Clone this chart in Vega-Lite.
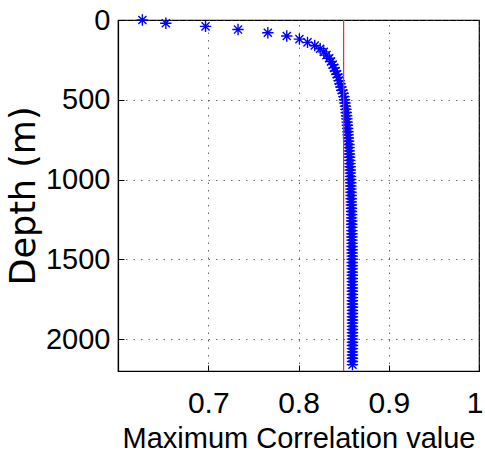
{
  "$schema": "https://vega.github.io/schema/vega-lite/v6.json",
  "width": 361,
  "height": 351,
  "autosize": {"type": "none"},
  "padding": {"left": 118, "top": 20, "right": 6, "bottom": 87},
  "background": "white",
  "config": {
    "view": {"stroke": "black", "strokeWidth": 1.2},
    "axis": {
      "domainColor": "black",
      "domainWidth": 1.2,
      "tickColor": "black",
      "tickSize": -6,
      "tickWidth": 1,
      "gridColor": "#444444",
      "gridDash": [1.5, 6],
      "gridWidth": 1,
      "gridOpacity": 0.8,
      "labelColor": "black",
      "titleColor": "black",
      "labelFont": "Liberation Sans",
      "titleFont": "Liberation Sans",
      "titleFontWeight": "normal"
    }
  },
  "datasets": {
    "profile": [
      {"depth": 0, "corr": 0.627},
      {"depth": 20, "corr": 0.653},
      {"depth": 40, "corr": 0.697},
      {"depth": 60, "corr": 0.733},
      {"depth": 80, "corr": 0.766},
      {"depth": 100, "corr": 0.787},
      {"depth": 120, "corr": 0.801},
      {"depth": 140, "corr": 0.81},
      {"depth": 160, "corr": 0.818},
      {"depth": 180, "corr": 0.824},
      {"depth": 200, "corr": 0.828},
      {"depth": 220, "corr": 0.831},
      {"depth": 240, "corr": 0.834},
      {"depth": 260, "corr": 0.836},
      {"depth": 280, "corr": 0.838},
      {"depth": 300, "corr": 0.8395},
      {"depth": 320, "corr": 0.841},
      {"depth": 340, "corr": 0.8425},
      {"depth": 360, "corr": 0.844},
      {"depth": 380, "corr": 0.845},
      {"depth": 400, "corr": 0.846},
      {"depth": 420, "corr": 0.847},
      {"depth": 440, "corr": 0.848},
      {"depth": 460, "corr": 0.8495},
      {"depth": 480, "corr": 0.8503},
      {"depth": 500, "corr": 0.851},
      {"depth": 520, "corr": 0.8515},
      {"depth": 540, "corr": 0.852},
      {"depth": 560, "corr": 0.8525},
      {"depth": 580, "corr": 0.8529},
      {"depth": 600, "corr": 0.8533},
      {"depth": 620, "corr": 0.8536},
      {"depth": 640, "corr": 0.8539},
      {"depth": 660, "corr": 0.8542},
      {"depth": 680, "corr": 0.8545},
      {"depth": 700, "corr": 0.8548},
      {"depth": 720, "corr": 0.855},
      {"depth": 740, "corr": 0.8553},
      {"depth": 760, "corr": 0.8555},
      {"depth": 780, "corr": 0.8558},
      {"depth": 800, "corr": 0.856},
      {"depth": 820, "corr": 0.8562},
      {"depth": 840, "corr": 0.8564},
      {"depth": 860, "corr": 0.8566},
      {"depth": 880, "corr": 0.8568},
      {"depth": 900, "corr": 0.857},
      {"depth": 920, "corr": 0.8572},
      {"depth": 940, "corr": 0.8573},
      {"depth": 960, "corr": 0.8575},
      {"depth": 980, "corr": 0.8576},
      {"depth": 1000, "corr": 0.8578},
      {"depth": 1020, "corr": 0.8579},
      {"depth": 1040, "corr": 0.858},
      {"depth": 1060, "corr": 0.8581},
      {"depth": 1080, "corr": 0.8582},
      {"depth": 1100, "corr": 0.8583},
      {"depth": 1120, "corr": 0.8584},
      {"depth": 1140, "corr": 0.8585},
      {"depth": 1160, "corr": 0.8586},
      {"depth": 1180, "corr": 0.8587},
      {"depth": 1200, "corr": 0.8588},
      {"depth": 1220, "corr": 0.8589},
      {"depth": 1240, "corr": 0.8589},
      {"depth": 1260, "corr": 0.859},
      {"depth": 1280, "corr": 0.859},
      {"depth": 1300, "corr": 0.8591},
      {"depth": 1320, "corr": 0.8591},
      {"depth": 1340, "corr": 0.8592},
      {"depth": 1360, "corr": 0.8592},
      {"depth": 1380, "corr": 0.8593},
      {"depth": 1400, "corr": 0.8593},
      {"depth": 1420, "corr": 0.8594},
      {"depth": 1440, "corr": 0.8594},
      {"depth": 1460, "corr": 0.8594},
      {"depth": 1480, "corr": 0.8595},
      {"depth": 1500, "corr": 0.8595},
      {"depth": 1520, "corr": 0.8595},
      {"depth": 1540, "corr": 0.8595},
      {"depth": 1560, "corr": 0.8596},
      {"depth": 1580, "corr": 0.8596},
      {"depth": 1600, "corr": 0.8596},
      {"depth": 1620, "corr": 0.8596},
      {"depth": 1640, "corr": 0.8596},
      {"depth": 1660, "corr": 0.8597},
      {"depth": 1680, "corr": 0.8597},
      {"depth": 1700, "corr": 0.8597},
      {"depth": 1720, "corr": 0.8597},
      {"depth": 1740, "corr": 0.8597},
      {"depth": 1760, "corr": 0.8597},
      {"depth": 1780, "corr": 0.8597},
      {"depth": 1800, "corr": 0.8598},
      {"depth": 1820, "corr": 0.8598},
      {"depth": 1840, "corr": 0.8598},
      {"depth": 1860, "corr": 0.8598},
      {"depth": 1880, "corr": 0.8598},
      {"depth": 1900, "corr": 0.8598},
      {"depth": 1920, "corr": 0.8598},
      {"depth": 1940, "corr": 0.8598},
      {"depth": 1960, "corr": 0.8598},
      {"depth": 1980, "corr": 0.8598},
      {"depth": 2000, "corr": 0.8598},
      {"depth": 2020, "corr": 0.8598},
      {"depth": 2040, "corr": 0.8598},
      {"depth": 2060, "corr": 0.8598},
      {"depth": 2080, "corr": 0.8598},
      {"depth": 2100, "corr": 0.8598},
      {"depth": 2120, "corr": 0.8598},
      {"depth": 2140, "corr": 0.8598},
      {"depth": 2160, "corr": 0.8598}
    ],
    "ref": [{"threshold": 0.85}]
  },
  "layer": [
    {
      "data": {"name": "profile"},
      "mark": {
        "type": "point",
        "shape": "M0,-1L0,1M-1,0L1,0M-0.71,-0.71L0.71,0.71M-0.71,0.71L0.71,-0.71",
        "filled": false,
        "stroke": "#0000ff",
        "strokeWidth": 1.4,
        "size": 130,
        "opacity": 1,
        "clip": false
      },
      "encoding": {
        "x": {
          "field": "corr",
          "type": "quantitative",
          "scale": {"domain": [0.6, 1.0], "nice": false, "zero": false},
          "axis": {
            "values": [0.7, 0.8, 0.9, 1.0],
            "format": "~g",
            "labelFontSize": 30,
            "labelPadding": 23,
            "labelFlush": true,
            "labelFlushOffset": 4,
            "title": "Maximum Correlation value",
            "titleFontSize": 29,
            "titlePadding": 6
          }
        },
        "y": {
          "field": "depth",
          "type": "quantitative",
          "scale": {"domain": [0, 2200], "reverse": true, "nice": false, "zero": false},
          "axis": {
            "values": [0, 500, 1000, 1500, 2000],
            "format": "d",
            "labelFontSize": 29,
            "labelPadding": 14,
            "title": "Depth (m)",
            "titleFont": "DejaVu Sans",
            "titleFontSize": 35,
            "titlePadding": 4
          }
        }
      }
    },
    {
      "data": {"name": "ref"},
      "mark": {"type": "rule", "color": "#d83838", "strokeWidth": 1.2},
      "encoding": {
        "x": {"field": "threshold", "type": "quantitative"}
      }
    }
  ]
}
